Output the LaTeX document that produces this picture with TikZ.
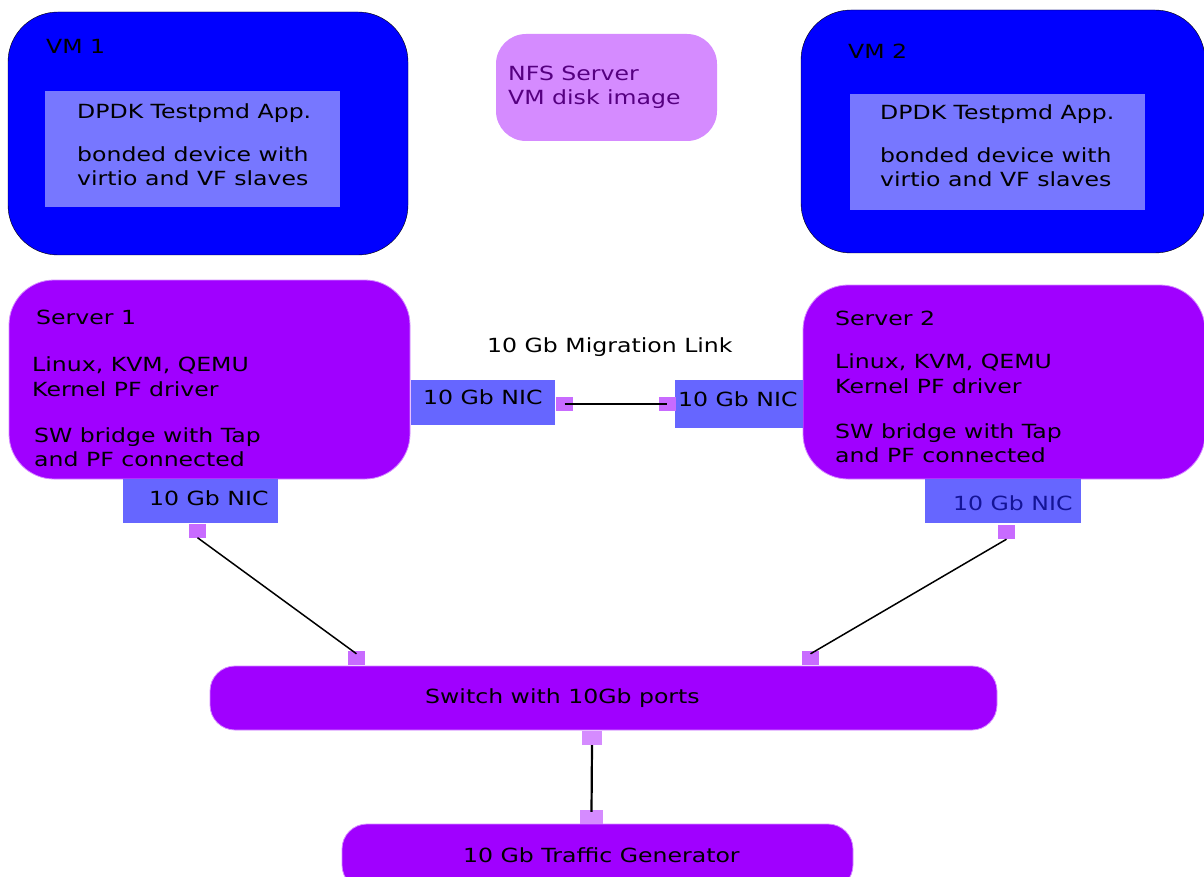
\documentclass[tikz,border=0pt]{standalone}
\usepackage{fontspec}
\setmainfont{DejaVu Sans}[FakeStretch=1.21]
\usepackage{tikz}

\definecolor{vmblue}{RGB}{0,0,255}
\definecolor{appblue}{RGB}{119,119,255}
\definecolor{nicblue}{RGB}{102,102,255}
\definecolor{srvpurple}{RGB}{160,0,255}
\definecolor{portpurple}{RGB}{200,107,255}
\definecolor{portlight}{RGB}{213,139,255}
\definecolor{nfstext}{RGB}{85,0,128}
\definecolor{nictext}{RGB}{20,20,150}

\begin{document}
\begin{tikzpicture}[x=1pt,y=-1pt]
\tikzstyle{vm}=[rectangle,rounded corners=50pt,fill=vmblue,draw=black,thin,inner sep=0pt,minimum width=400pt,minimum height=243pt]
\tikzstyle{app}=[rectangle,fill=appblue,inner sep=0pt,minimum width=295pt,minimum height=116pt]
\tikzstyle{server}=[rectangle,rounded corners=45pt,fill=srvpurple,draw=portlight,line width=0.8pt,inner sep=0pt]
\tikzstyle{nic}=[rectangle,fill=nicblue,inner sep=0pt]
\tikzstyle{port}=[rectangle,fill=portpurple,inner sep=0pt,minimum width=17pt,minimum height=14pt]
\tikzstyle{txt}=[anchor=base west,inner sep=0pt,align=left,font=\fontsize{19.5}{24}\selectfont]
\useasboundingbox (0,0) rectangle (1204,877);
% virtual machines
\node [vm] (vm1) at (208,133.5) {};
\node [vm,minimum width=404pt] (vm2) at (1003,131.5) {};
\node [app] (app1) at (192.5,149) {};
\node [app] (app2) at (997.5,152) {};
\node [txt] (vm1lbl) at (46,54) {VM 1};
\node [txt] (app1a) at (77,119) {DPDK Testpmd App.};
\node [txt] (app1b) at (77,186) {bonded device with\\virtio and VF slaves};
\node [txt] (vm2lbl) at (848,59) {VM 2};
\node [txt] (app2a) at (880,120) {DPDK Testpmd App.};
\node [txt] (app2b) at (880,187) {bonded device with\\virtio and VF slaves};
% nfs server
\node [rectangle,rounded corners=30pt,fill=portlight,inner sep=0pt,minimum width=221pt,minimum height=107pt] (nfs) at (606.5,87.5) {};
\node [txt,text=nfstext] (nfslbl) at (508,105) {NFS Server\\VM disk image};
% servers
\node [server,minimum width=401pt,minimum height=199pt] (srv1) at (209.5,379.5) {};
\node [server,minimum width=402pt,minimum height=194pt] (srv2) at (1004,382) {};
\node [txt] (srv1lbl) at (36,324) {Server 1};
\node [txt,font=\fontsize{19.5}{25}\selectfont] (srv1a) at (32,396) {Linux, KVM, QEMU\\Kernel PF driver};
\node [txt] (srv1b) at (34,466) {SW bridge with Tap\\and PF connected};
\node [txt] (srv2lbl) at (835,325) {Server 2};
\node [txt,font=\fontsize{19.5}{25}\selectfont] (srv2a) at (835,393) {Linux, KVM, QEMU\\Kernel PF driver};
\node [txt] (srv2b) at (835,462) {SW bridge with Tap\\and PF connected};
% nics
\node [nic,minimum width=144pt,minimum height=45pt] (nicm1) at (483,402.5) {};
\node [nic,minimum width=128pt,minimum height=48pt] (nicm2) at (739,404) {};
\node [nic,minimum width=155pt,minimum height=44pt] (nic1) at (200.5,501) {};
\node [nic,minimum width=156pt,minimum height=44pt] (nic2) at (1003,501) {};
\node [txt] (nicm1lbl) at (423,404) {10 Gb NIC};
\node [txt] (nicm2lbl) at (678,406) {10 Gb NIC};
\node [txt] (nic1lbl) at (149,505) {10 Gb NIC};
\node [txt,text=nictext] (nic2lbl) at (953,510) {10 Gb NIC};
\node [txt] (miglbl) at (487,352) {10 Gb Migration Link};
% switch and traffic generator
\node [rectangle,rounded corners=25pt,fill=srvpurple,draw=portlight,line width=0.8pt,inner sep=0pt,minimum width=787pt,minimum height=64pt] (switch) at (603.5,698) {};
\node [txt] (switchlbl) at (425,703) {Switch with 10Gb ports};
\node [rectangle,rounded corners=25pt,fill=srvpurple,draw=portlight,line width=0.8pt,inner sep=0pt,minimum width=511pt,minimum height=66pt] (tgen) at (597.5,857) {};
\node [txt] (tgenlbl) at (463,862) {10 Gb Traffic Generator};
% ports
\node [port] (pm1) at (564.5,404) {};
\node [port] (pm2) at (667,404) {};
\node [port] (p1) at (197.5,530.5) {};
\node [port] (p2) at (1006.5,532) {};
\node [port] (ps1) at (356.5,658) {};
\node [port] (ps2) at (810.5,658) {};
\node [port,fill=portlight,minimum width=20pt] (ps3) at (592,738) {};
\node [port,fill=portlight,minimum width=23pt] (pt) at (591.5,817) {};
% links
\draw [line width=1.5pt] (pm1.center) -- (pm2.center);
\draw [line width=1.5pt] (p1.south) -- ([yshift=-3pt]ps1.north);
\draw [line width=1.5pt] (p2.south) -- ([yshift=-3pt]ps2.north);
\draw [line width=2.2pt] (ps3.south) -- ([yshift=-2pt]pt.north);
\end{tikzpicture}
\end{document}
